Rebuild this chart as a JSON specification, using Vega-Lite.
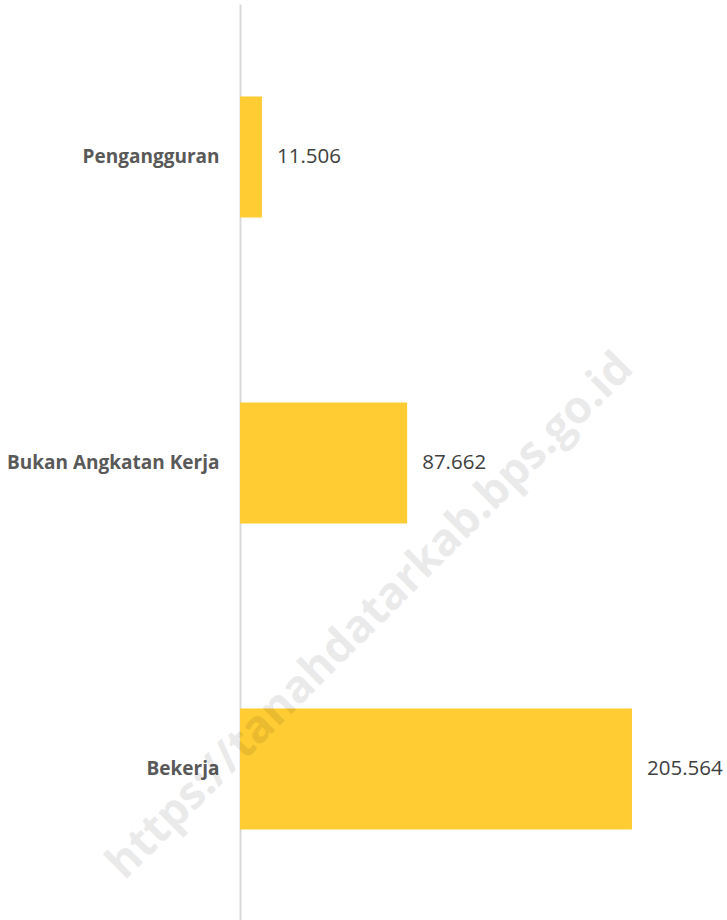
{
  "$schema": "https://vega.github.io/schema/vega-lite/v6.json",
  "autosize": "none",
  "width": 487,
  "height": 918,
  "padding": {"left": 240, "top": 4, "right": 0, "bottom": 0},
  "background": "white",
  "config": {"view": {"stroke": null}},
  "datasets": {
    "main": [
      {"kategori": "Pengangguran", "jumlah": 11.506, "label": "11.506"},
      {"kategori": "Bukan Angkatan Kerja", "jumlah": 87.662, "label": "87.662"},
      {"kategori": "Bekerja", "jumlah": 205.564, "label": "205.564"}
    ],
    "wm": [{"t": "https://tanahdatarkab.bps.go.id"}]
  },
  "layer": [
    {
      "data": {"name": "main"},
      "mark": {"type": "bar", "color": "#FFCC33"},
      "encoding": {
        "y": {
          "field": "kategori", "type": "nominal", "sort": null, "title": null,
          "scale": {"paddingInner": 0.605, "paddingOuter": 0.3025},
          "axis": {
            "domainColor": "#d9d9d9", "domainWidth": 2, "ticks": false,
            "labelFont": "Open Sans", "labelFontWeight": "bold", "labelFontSize": 19,
            "labelColor": "#595959", "labelPadding": 21, "labelLimit": 300
          }
        },
        "x": {
          "field": "jumlah", "type": "quantitative",
          "scale": {"domain": [0, 255.4], "nice": false},
          "axis": null
        }
      }
    },
    {
      "data": {"name": "main"},
      "mark": {"type": "text", "align": "left", "dx": 15, "font": "Open Sans", "fontSize": 20.5, "color": "#404040"},
      "encoding": {
        "y": {"field": "kategori", "type": "nominal", "sort": null},
        "x": {"field": "jumlah", "type": "quantitative"},
        "text": {"field": "label"}
      }
    },
    {
      "data": {"name": "wm"},
      "mark": {"type": "text", "angle": -45, "align": "center", "baseline": "middle", "font": "Open Sans", "fontWeight": "bold", "fontSize": 45, "color": "#000000", "opacity": 0.08, "dx": -108, "dy": 108},
      "encoding": {
        "x": {"datum": 68.2, "type": "quantitative"},
        "y": {"datum": "Bukan Angkatan Kerja", "type": "nominal"},
        "text": {"field": "t"}
      }
    }
  ]
}
